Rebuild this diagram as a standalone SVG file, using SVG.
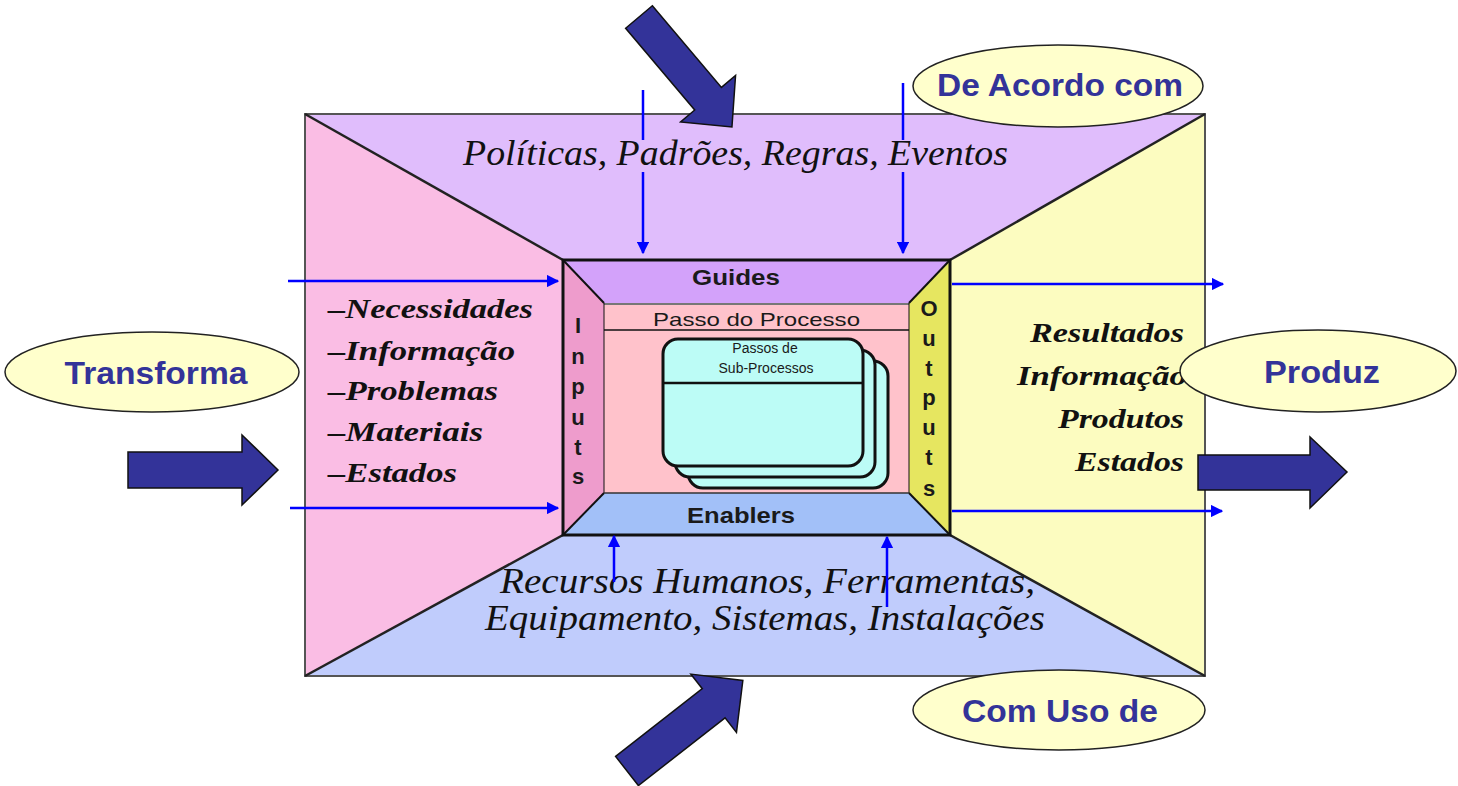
<svg xmlns="http://www.w3.org/2000/svg" width="1458" height="786" viewBox="0 0 1458 786">
<defs>
<style>
.edge{stroke:#222;stroke-width:2.5;stroke-linejoin:round}
.serif{font-family:"Liberation Serif","Times New Roman",serif;font-style:italic;fill:#111}
.sans{font-family:"Liberation Sans",Arial,sans-serif;fill:#1a1a1a}
.ell{fill:#ffffcc;stroke:#222;stroke-width:1.5}
.etext{font-family:"Liberation Sans",Arial,sans-serif;font-weight:bold;font-size:31px;fill:#333399;text-anchor:middle}
.blk{fill:#333399;stroke:#111;stroke-width:1.5;stroke-linejoin:miter}
.thin{stroke:#0000ff;stroke-width:2.5;fill:none}
.card{fill:#bcfcf6;stroke:#111;stroke-width:3}
.vl{font-family:"Liberation Sans",Arial,sans-serif;font-weight:bold;font-size:22px;fill:#1a1a1a;text-anchor:middle}
</style>
<marker id="ah" viewBox="0 0 10 10" refX="9" refY="5" markerWidth="5" markerHeight="5" markerUnits="strokeWidth" orient="auto">
<path d="M0,0 L10,5 L0,10 z" fill="#0000ff"/>
</marker>
</defs>
<rect width="1458" height="786" fill="#ffffff"/>

<g id="outer-frame">
<polygon points="305,114 1205,114 950,260 563,260" fill="#e0bdfc"/>
<polygon points="305,114 563,260 563,535 305,676" fill="#fabde4"/>
<polygon points="1205,114 1205,676 950,535 950,260" fill="#fcfcc0"/>
<polygon points="305,676 563,535 950,535 1205,676" fill="#c0ccfc"/>
<rect x="305" y="114" width="900" height="562" fill="none" stroke="#555" stroke-width="2"/>
<line x1="305" y1="114" x2="563" y2="260" class="edge"/>
<line x1="1205" y1="114" x2="950" y2="260" class="edge"/>
<line x1="305" y1="676" x2="563" y2="535" class="edge"/>
<line x1="1205" y1="676" x2="950" y2="535" class="edge"/>
</g>

<g id="guides-text">
<text x="463" y="165" class="serif" font-size="35" textLength="545" lengthAdjust="spacingAndGlyphs">Políticas, Padrões, Regras, Eventos</text>
</g>

<g id="inputs-list" class="serif" font-weight="bold" font-size="28">
<text x="328" y="318" textLength="205" lengthAdjust="spacingAndGlyphs">–Necessidades</text>
<text x="328" y="360" textLength="187" lengthAdjust="spacingAndGlyphs">–Informação</text>
<text x="328" y="400" textLength="170" lengthAdjust="spacingAndGlyphs">–Problemas</text>
<text x="328" y="441" textLength="155" lengthAdjust="spacingAndGlyphs">–Materiais</text>
<text x="328" y="482" textLength="129" lengthAdjust="spacingAndGlyphs">–Estados</text>
</g>

<g id="outputs-list" class="serif" font-weight="bold" font-size="28">
<text x="1030" y="342" textLength="154" lengthAdjust="spacingAndGlyphs">Resultados</text>
<text x="1017" y="385" textLength="170" lengthAdjust="spacingAndGlyphs">Informação</text>
<text x="1058" y="428" textLength="126" lengthAdjust="spacingAndGlyphs">Produtos</text>
<text x="1075" y="471" textLength="109" lengthAdjust="spacingAndGlyphs">Estados</text>
</g>

<g id="enablers-text" class="serif" font-size="35">
<text x="500" y="593" textLength="535" lengthAdjust="spacingAndGlyphs">Recursos Humanos, Ferramentas,</text>
<text x="485" y="630" textLength="560" lengthAdjust="spacingAndGlyphs">Equipamento, Sistemas, Instalações</text>
</g>

<g id="process-box">
<polygon points="563,260 950,260 909,303 604,303" fill="#d3a2fa"/>
<polygon points="563,260 604,303 604,493 563,535" fill="#ee9ccc"/>
<polygon points="950,260 950,535 909,493 909,303" fill="#e6e660"/>
<polygon points="563,535 604,493 909,493 950,535" fill="#a2c0f8"/>
<rect x="604" y="303" width="305" height="190" fill="#ffc2cb"/>
<line x1="604" y1="304" x2="909" y2="304" stroke="#777" stroke-width="2"/>
<line x1="604" y1="330" x2="909" y2="330" stroke="#111" stroke-width="1.5"/>
<line x1="563" y1="260" x2="604" y2="303" stroke="#111" stroke-width="2"/>
<line x1="950" y1="260" x2="909" y2="303" stroke="#111" stroke-width="2"/>
<line x1="563" y1="535" x2="604" y2="493" stroke="#111" stroke-width="2"/>
<line x1="950" y1="535" x2="909" y2="493" stroke="#111" stroke-width="2"/>
<line x1="604" y1="303" x2="604" y2="493" stroke="#111" stroke-width="1"/>
<line x1="909" y1="303" x2="909" y2="493" stroke="#111" stroke-width="1"/>
<line x1="604" y1="493" x2="909" y2="493" stroke="#333" stroke-width="1.5"/>
<rect x="563" y="260" width="387" height="275" fill="none" stroke="#111" stroke-width="3"/>
<text x="692" y="285" class="sans" font-weight="bold" font-size="22" textLength="88" lengthAdjust="spacingAndGlyphs">Guides</text>
<text x="653" y="326" class="sans" font-size="19" textLength="207" lengthAdjust="spacingAndGlyphs">Passo do Processo</text>
<text x="687" y="523" class="sans" font-weight="bold" font-size="22" textLength="108" lengthAdjust="spacingAndGlyphs">Enablers</text>
<g id="inputs-label">
<text x="578" y="333" class="vl">I</text>
<text x="578" y="364" class="vl">n</text>
<text x="578" y="394" class="vl">p</text>
<text x="578" y="425" class="vl">u</text>
<text x="578" y="455" class="vl">t</text>
<text x="578" y="484" class="vl">s</text>
</g>
<g id="outputs-label">
<text x="929" y="316" class="vl">O</text>
<text x="929" y="346" class="vl">u</text>
<text x="929" y="376" class="vl">t</text>
<text x="929" y="405" class="vl">p</text>
<text x="929" y="435" class="vl">u</text>
<text x="929" y="465" class="vl">t</text>
<text x="929" y="496" class="vl">s</text>
</g>
</g>

<g id="sub-processes">
<rect x="688" y="361" width="200" height="127" rx="15" class="card"/>
<rect x="675" y="350" width="200" height="127" rx="15" class="card"/>
<rect x="663" y="339" width="200" height="127" rx="15" class="card"/>
<line x1="663" y1="383" x2="863" y2="383" stroke="#111" stroke-width="2.5"/>
<text x="765" y="353" class="sans" font-size="14" text-anchor="middle" fill="#333">Passos de</text>
<text x="766" y="373" class="sans" font-size="14" text-anchor="middle" fill="#333">Sub-Processos</text>
</g>

<g id="connectors">
<line x1="288" y1="281" x2="558" y2="281" class="thin" marker-end="url(#ah)"/>
<line x1="290" y1="508" x2="558" y2="508" class="thin" marker-end="url(#ah)"/>
<line x1="952" y1="284" x2="1223" y2="284" class="thin" marker-end="url(#ah)"/>
<line x1="952" y1="511" x2="1222" y2="511" class="thin" marker-end="url(#ah)"/>
<line x1="643" y1="90" x2="643" y2="140" class="thin"/>
<line x1="643" y1="172" x2="643" y2="253" class="thin" marker-end="url(#ah)"/>
<line x1="903" y1="83" x2="903" y2="140" class="thin"/>
<line x1="903" y1="172" x2="903" y2="253" class="thin" marker-end="url(#ah)"/>
<line x1="614" y1="582" x2="614" y2="536" class="thin" marker-end="url(#ah)"/>
<line x1="887" y1="607" x2="887" y2="537" class="thin" marker-end="url(#ah)"/>
<polygon class="blk" points="128,452 242,452 242,435 278,470 242,505 242,488 128,488"/>
<polygon class="blk" points="1198,455 1310,455 1310,437 1347,472 1310,508 1310,490 1198,490"/>
<polygon class="blk" transform="translate(639,17) rotate(49.8)" points="0,-17.5 107,-17.5 107,-36 144,0 107,36 107,17.5 0,17.5"/>
<polygon class="blk" transform="translate(627,771) rotate(-38)" points="0,-18.5 110,-18.5 110,-37 147,0 110,37 110,18.5 0,18.5"/>
</g>

<g id="de-acordo-com">
<ellipse cx="1058" cy="86" rx="145" ry="41" class="ell"/>
<text x="1060" y="96" class="etext" textLength="246" lengthAdjust="spacingAndGlyphs">De Acordo com</text>
</g>
<g id="transforma">
<ellipse cx="152" cy="372" rx="147" ry="40" class="ell"/>
<text x="156" y="384" class="etext" textLength="183" lengthAdjust="spacingAndGlyphs">Transforma</text>
</g>
<g id="produz">
<ellipse cx="1318" cy="371" rx="138" ry="41" class="ell"/>
<text x="1322" y="383" class="etext" textLength="116" lengthAdjust="spacingAndGlyphs">Produz</text>
</g>
<g id="com-uso-de">
<ellipse cx="1059" cy="710" rx="146" ry="40" class="ell"/>
<text x="1060" y="722" class="etext" textLength="196" lengthAdjust="spacingAndGlyphs">Com Uso de</text>
</g>
</svg>
